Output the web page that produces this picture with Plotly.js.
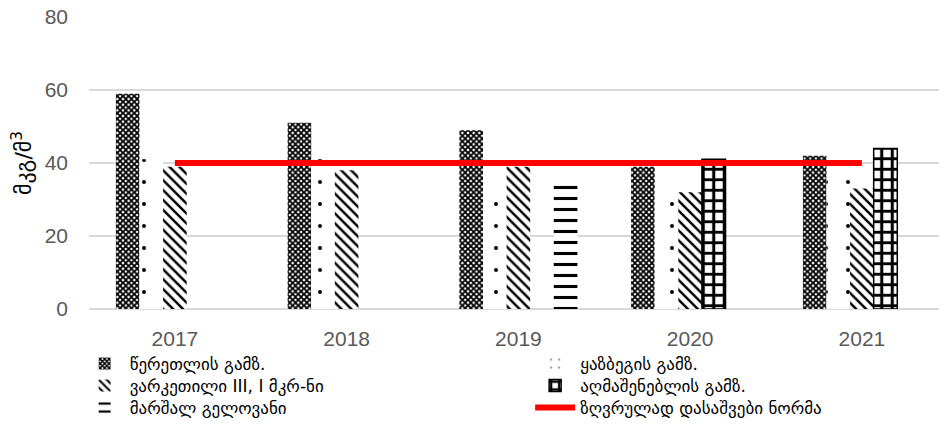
<!DOCTYPE html>
<html>
<head>
<meta charset="utf-8">
<script src="https://cdn.plot.ly/plotly-3.0.1.min.js"></script>
<style>
html,body{margin:0;padding:0;background:#fff;overflow:hidden;}
#chart{width:939px;height:432px;}
</style>
</head>
<body>
<div id="chart"></div>
<script>
const years = ['2017', '2018', '2019', '2020', '2021'];
const tsereteli = [59, 51, 49, 39, 42];
const kazbegi = [41, 41, 34, 33, 36];
const varketili = [39, 38, 39, 32, 33];
const aghmashenebeli = [null, null, null, 41, 44];
const gelovani = [null, null, 35, null, null];
const normLimit = [40, 40, 40, 40, 40];

const names = {
  tsereteli: 'წერეთლის გამზ.',
  kazbegi: 'ყაზბეგის გამზ.',
  varketili: 'ვარკეთილი III, I მკრ-ნი',
  aghmashenebeli: 'აღმაშენებლის გამზ.',
  gelovani: 'მარშალ გელოვანი',
  norm: 'ზღვრულად დასაშვები ნორმა'
};
const yTitle = 'მკგ/მ<sup>3</sup>';

function barTrace(name, vals, shape, size, solidity, legendId, outline) {
  return {
    type: 'bar', x: years, y: vals, name: name, legend: legendId,
    marker: {
      color: 'white',
      line: {width: outline || 0, color: 'black'},
      pattern: {shape: shape, size: size, solidity: solidity, fgcolor: 'black', bgcolor: 'white', fillmode: 'replace'}
    },
    hoverinfo: 'skip'
  };
}

const data = [
  barTrace(names.tsereteli, tsereteli, 'x', 4, 0.7, 'legend'),
  barTrace(names.kazbegi, kazbegi, '.', 22, 0.025, 'legend2'),
  barTrace(names.varketili, varketili, '\\', 7, 0.35, 'legend3'),
  barTrace(names.aghmashenebeli, aghmashenebeli, '+', 10.5, 0.5, 'legend4', 1.5),
  barTrace(names.gelovani, gelovani, '-', 11, 0.28, 'legend5'),
  {
    type: 'scatter', mode: 'lines', x: years, y: normLimit, name: names.norm, legend: 'legend6',
    line: {color: '#ff0000', width: 6}, hoverinfo: 'skip'
  }
];

const legendFont = {family: '"DejaVu Sans", sans-serif', size: 17, color: '#000'};
function legendAt(x, y) {
  return {
    orientation: 'v', x: x, xanchor: 'left', y: y, yanchor: 'top',
    font: legendFont, tracegroupgap: 0, itemwidth: 40,
    bgcolor: 'rgba(0,0,0,0)', traceorder: 'normal'
  };
}
const colX = [-0.011, 0.519];
const rowY = [-0.1267, -0.2021, -0.2774];

const layout = {
  width: 939, height: 432,
  margin: {l: 89, r: 0, t: 17, b: 123},
  paper_bgcolor: 'white', plot_bgcolor: 'white',
  font: {family: '"DejaVu Sans", "Liberation Sans", sans-serif', color: '#000'},
  barmode: 'group',
  bargap: 0.313,
  bargroupgap: 0,
  showlegend: true,
  xaxis: {
    type: 'category',
    range: [-0.5, 4.449],
    showgrid: false,
    showline: false,
    zeroline: false,
    ticks: '',
    ticklabelstandoff: 15,
    tickfont: {family: '"Liberation Sans", sans-serif', size: 21, color: '#595959'},
    fixedrange: true
  },
  yaxis: {
    range: [0, 80],
    dtick: 20,
    showgrid: true,
    gridcolor: '#d9d9d9',
    gridwidth: 1.5,
    zeroline: true,
    zerolinecolor: '#d9d9d9',
    zerolinewidth: 1.5,
    showline: false,
    ticks: '',
    ticklabelstandoff: 20,
    tickfont: {family: '"Liberation Sans", sans-serif', size: 21, color: '#595959'},
    title: {text: yTitle, font: {family: '"DejaVu Sans", sans-serif', size: 22, color: '#000'}, standoff: 6},
    fixedrange: true
  },
  legend: legendAt(colX[0], rowY[0]),
  legend2: legendAt(colX[1], rowY[0]),
  legend3: legendAt(colX[0], rowY[1]),
  legend4: legendAt(colX[1], rowY[1]),
  legend5: legendAt(colX[0], rowY[2]),
  legend6: legendAt(colX[1], rowY[2])
};

Plotly.newPlot('chart', data, layout, {staticPlot: true, displayModeBar: false});
</script>
</body>
</html>
